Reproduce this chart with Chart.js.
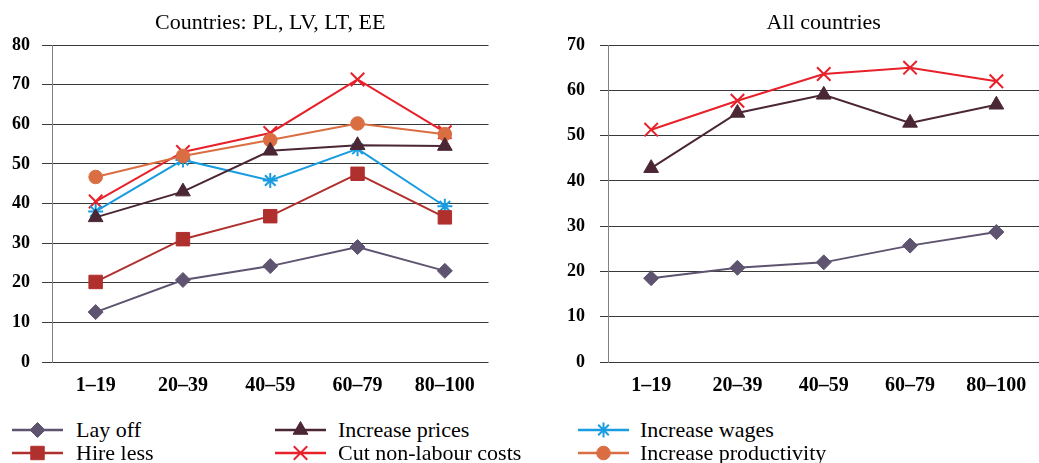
<!DOCTYPE html>
<html><head><meta charset="utf-8">
<script src="https://cdn.jsdelivr.net/npm/chart.js@4.4.1/dist/chart.umd.min.js"></script>
<style>
html,body{margin:0;padding:0;background:#fff;overflow:hidden;width:1039px;height:463px;position:relative;}
#w1{position:absolute;left:0;top:0;width:500px;height:400px;}
#w2{position:absolute;left:556px;top:0;width:495px;height:400px;}
.lgt{position:absolute;font-family:"Liberation Serif",serif;font-size:22px;color:#000;white-space:nowrap;line-height:23px;}
.lgc{position:absolute;}
</style></head><body>
<div id="w1"><canvas id="c1" width="500" height="400" style="width:500px;height:400px"></canvas></div>
<div id="w2"><canvas id="c2" width="495" height="400" style="width:495px;height:400px"></canvas></div>
<div id="legend"></div>
<script>
// ---- data ----
const categories = ['1–19', '20–39', '40–59', '60–79', '80–100'];
const seriesNames = ['Lay off', 'Hire less', 'Increase prices', 'Cut non-labour costs', 'Increase wages', 'Increase productivity'];
// Countries: PL, LV, LT, EE
const layOffBaltic = [12.6, 20.7, 24.2, 29.0, 23.0];
const hireLessBaltic = [20.2, 31.0, 36.8, 47.5, 36.5];
const pricesBaltic = [36.5, 43.0, 53.3, 54.7, 54.5];
const wagesBaltic = [38.0, 51.0, 45.8, 53.8, 39.3];
const costsBaltic = [40.5, 53.0, 57.8, 71.3, 58.0];
const productivityBaltic = [46.7, 52.0, 56.0, 60.2, 57.5];
// All countries
const layOffAll = [18.5, 20.8, 22.0, 25.7, 28.7];
const pricesAll = [42.8, 55.0, 59.0, 52.8, 56.8];
const costsAll = [51.3, 57.7, 63.6, 65.0, 62.0];
const yTicksLeft = [0, 10, 20, 30, 40, 50, 60, 70, 80];
const yTicksRight = [0, 10, 20, 30, 40, 50, 60, 70];

// ---- styles ----
const styles = {
  'Lay off': {color: '#5e5470', pointStyle: 'rectRot', radius: 7.5, bw: 1},
  'Hire less': {color: '#b0302e', pointStyle: 'rect', radius: 9.5, bw: 1},
  'Increase prices': {color: '#4b2634', pointStyle: 'triangle', radius: 8.5, bw: 1},
  'Cut non-labour costs': {color: '#e8202a', pointStyle: 'crossRot', radius: 9.5, bw: 2},
  'Increase wages': {color: '#1a9de0', pointStyle: 'star', radius: 7.5, bw: 2},
  'Increase productivity': {color: '#da6e42', pointStyle: 'circle', radius: 6.8, bw: 1}
};

function ds(name, data) {
  const s = styles[name];
  return {
    label: name, data: data,
    borderColor: s.color, backgroundColor: s.color,
    pointBackgroundColor: s.color, pointBorderColor: s.color,
    pointStyle: s.pointStyle, pointRadius: s.radius, pointHoverRadius: s.radius,
    pointBorderWidth: s.bw, borderWidth: 2, tension: 0, fill: false
  };
}

const titlePlugin = {
  id: 'ptitle',
  afterDraw(chart, args, opts) {
    const ctx = chart.ctx, a = chart.chartArea;
    ctx.save();
    ctx.font = '22px "Liberation Serif", serif';
    ctx.fillStyle = '#000';
    ctx.textAlign = 'center';
    ctx.textBaseline = 'middle';
    ctx.fillText(opts.text, (a.left + a.right) / 2, 23);
    ctx.restore();
  }
};

function opts(title, maxY, ticks, padRight, tickLen, tickPad) {
  return {
    responsive: false, maintainAspectRatio: false, animation: false,
    layout: {padding: {top: 45, right: padRight, left: 0, bottom: 0}},
    plugins: {legend: {display: false}, tooltip: {enabled: false}, ptitle: {text: title}},
    scales: {
      x: {
        offset: true,
        grid: {display: false, drawTicks: false},
        border: {display: false},
        ticks: {color: '#000', padding: 12, font: {family: '"Liberation Serif", serif', size: 20, weight: 'bold'}, maxRotation: 0, autoSkip: false},
        afterFit: s => { s.height = 38; }
      },
      y: {
        min: 0, max: maxY,
        afterBuildTicks: s => { s.ticks = ticks.map(v => ({value: v})); },
        grid: {color: '#3a3a3a', lineWidth: 1, tickLength: tickLen, drawTicks: true},
        border: {display: true, color: '#808080', width: 1},
        ticks: {color: '#000', padding: tickPad, font: {family: '"Liberation Serif", serif', size: 18, weight: 'bold'}},
        afterFit: s => { s.width = 52; }
      }
    }
  };
}

new Chart(document.getElementById('c1'), {
  type: 'line',
  data: {
    labels: categories,
    datasets: [
      ds('Lay off', layOffBaltic),
      ds('Hire less', hireLessBaltic),
      ds('Increase prices', pricesBaltic),
      ds('Increase productivity', productivityBaltic),
      ds('Increase wages', wagesBaltic),
      ds('Cut non-labour costs', costsBaltic)
    ]
  },
  options: opts('Countries: PL, LV, LT, EE', 80, yTicksLeft, 6, 10, 12),
  plugins: [titlePlugin]
});

new Chart(document.getElementById('c2'), {
  type: 'line',
  data: {
    labels: categories,
    datasets: [
      ds('Lay off', layOffAll),
      ds('Increase prices', pricesAll),
      ds('Cut non-labour costs', costsAll)
    ]
  },
  options: opts('All countries', 70, yTicksRight, 1, 8, 15),
  plugins: [titlePlugin]
});

// ---- legend (HTML text, markers drawn with Chart.js helpers) ----
const legendOrder = ['Lay off', 'Increase prices', 'Increase wages', 'Hire less', 'Cut non-labour costs', 'Increase productivity'];
const colLine = [12, 275, 578];
const colText = [76, 338, 640];
const rowY = [430, 453];
const lg = document.getElementById('legend');
legendOrder.forEach((name, i) => {
  const col = i % 3, row = Math.floor(i / 3);
  const s = styles[name];
  const cv = document.createElement('canvas');
  cv.width = 52; cv.height = 24; cv.className = 'lgc';
  cv.style.left = colLine[col] + 'px';
  cv.style.top = (rowY[row] - 12) + 'px';
  lg.appendChild(cv);
  const ctx = cv.getContext('2d');
  ctx.strokeStyle = s.color; ctx.fillStyle = s.color; ctx.lineWidth = 2.5;
  ctx.beginPath(); ctx.moveTo(0, 12); ctx.lineTo(51, 12); ctx.stroke();
  ctx.lineWidth = s.bw;
  Chart.helpers.drawPoint(ctx, {pointStyle: s.pointStyle, radius: s.radius, rotation: 0, borderWidth: s.bw}, 25.5, 12);
  const t = document.createElement('div');
  t.className = 'lgt';
  t.textContent = name;
  t.style.left = colText[col] + 'px';
  t.style.top = (rowY[row] - 12) + 'px';
  lg.appendChild(t);
});
</script>
</body></html>
